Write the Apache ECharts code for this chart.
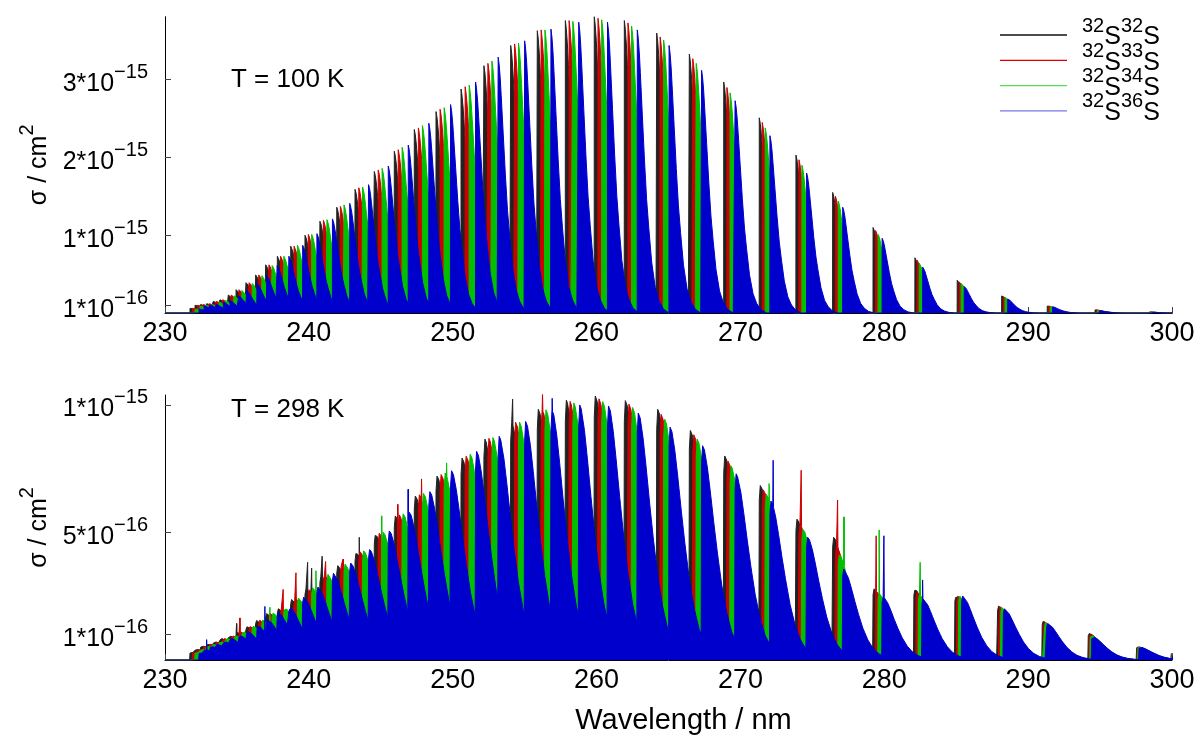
<!DOCTYPE html>
<html>
<head>
<meta charset="utf-8">
<title>S2 isotopologue absorption cross sections</title>
<script src="https://cdn.jsdelivr.net/npm/echarts@6/dist/echarts.min.js"></script>
<style>
  html, body { margin: 0; padding: 0; background: #fff; }
  #chart { width: 1200px; height: 736px; }
</style>
</head>
<body>
<div id="chart"></div>
<script>
var FONT = 'Liberation Sans';

// isotopologues, in drawing order (32S36S ends up on top)
var isoNames = ['32S32S', '32S33S', '32S34S', '32S36S'];
var isoMass = [['32', '32'], ['32', '33'], ['32', '34'], ['32', '36']];
var isoColors = ['#222222', '#cc0000', '#00c000', '#0000cc'];
var legendColors = ['#111111', '#dd0000', '#55dd55', '#7777ee'];
// head shift of each isotopologue as a fraction of the 32S36S shift
var isoShiftFrac = [0, 0.28, 0.56, 1];

// ---- T = 100 K (sigma in 1e-15 cm2) ----
var heads100 = [231.74, 232.09, 232.48, 232.90, 233.36, 233.82, 234.40, 234.94, 235.63, 236.30,
  237.00, 237.81, 238.74, 239.73, 240.77, 241.94, 243.21, 244.55, 245.94, 247.33,
  248.84, 250.58, 252.17, 254.03, 255.88, 257.83, 259.84, 261.93, 264.18, 266.45,
  268.84, 271.31, 273.86, 276.41, 279.22, 282.13, 285.07, 288.16, 291.33, 294.65, 298.33];
var shift100 = [0.63, 0.63, 0.66, 0.66, 0.70, 0.70, 0.73, 0.73, 0.77, 0.77,
  0.80, 0.80, 0.83, 0.83, 0.87, 0.90, 0.94, 0.97, 0.97, 1.01,
  1.01, 1.01, 0.99, 0.97, 0.95, 0.93, 0.92, 0.90, 0.86, 0.85,
  0.79, 0.74, 0.74, 0.70, 0.63, 0.54, 0.49, 0.42, 0.37, 0.31, 0.28];
var peak100_32 = [0.06, 0.10, 0.11, 0.12, 0.15, 0.17, 0.23, 0.30, 0.39, 0.49,
  0.62, 0.73, 0.86, 1.00, 1.18, 1.36, 1.59, 1.82, 2.08, 2.36,
  2.59, 2.88, 3.18, 3.44, 3.63, 3.76, 3.81, 3.76, 3.60, 3.33,
  2.97, 2.51, 2.03, 1.55, 1.10, 0.71, 0.42, 0.22, 0.09, 0.04, 0.015];
var peak100_33 = [0.06, 0.10, 0.11, 0.12, 0.15, 0.17, 0.23, 0.30, 0.39, 0.49,
  0.62, 0.73, 0.86, 1.01, 1.19, 1.37, 1.61, 1.84, 2.10, 2.38,
  2.62, 2.91, 3.21, 3.46, 3.64, 3.76, 3.79, 3.73, 3.55, 3.27,
  2.90, 2.45, 1.97, 1.50, 1.06, 0.68, 0.40, 0.21, 0.09, 0.04, 0.014];
var peak100_34 = [0.05, 0.09, 0.10, 0.11, 0.14, 0.16, 0.22, 0.29, 0.38, 0.48,
  0.61, 0.73, 0.87, 1.01, 1.20, 1.39, 1.62, 1.86, 2.13, 2.41,
  2.64, 2.93, 3.24, 3.47, 3.64, 3.75, 3.77, 3.69, 3.51, 3.21,
  2.83, 2.38, 1.90, 1.44, 1.01, 0.64, 0.38, 0.20, 0.08, 0.03, 0.012];
var peak100_36 = [0.05, 0.09, 0.10, 0.11, 0.14, 0.16, 0.22, 0.29, 0.38, 0.48,
  0.61, 0.73, 0.87, 1.02, 1.21, 1.41, 1.65, 1.89, 2.16, 2.44,
  2.68, 2.97, 3.29, 3.50, 3.65, 3.74, 3.74, 3.64, 3.44, 3.12,
  2.73, 2.28, 1.80, 1.36, 0.96, 0.59, 0.34, 0.18, 0.08, 0.03, 0.01];
// band contour: offset from head (nm), relative height
var prof100Off = [-0.005, 0, 0.07, 0.14, 0.21, 0.35, 0.5, 0.65, 0.8, 1.0, 1.25, 1.5, 1.8, 2.2];
var prof100Rel = [0, 1, 0.97, 0.92, 0.85, 0.70, 0.54, 0.40, 0.30, 0.18, 0.09, 0.045, 0.015, 0];

// ---- T = 298 K (sigma in 1e-16 cm2) ----
var heads298 = [231.74, 232.09, 232.48, 232.90, 233.36, 233.82, 234.40, 234.94, 235.63, 236.30,
  237.00, 237.81, 238.74, 239.73, 240.77, 241.94, 243.21, 244.55, 245.94, 247.33,
  248.84, 250.58, 252.17, 254.03, 255.88, 257.83, 259.84, 261.93, 264.18, 266.45,
  268.84, 271.31, 273.86, 276.41, 279.22, 282.06, 284.91, 287.88, 290.98, 294.18, 297.54, 299.95];
var shift298 = [0.63, 0.63, 0.66, 0.66, 0.70, 0.70, 0.73, 0.73, 0.77, 0.77,
  0.80, 0.80, 0.83, 0.83, 0.87, 0.90, 0.94, 0.97, 0.97, 1.01,
  1.01, 1.01, 0.99, 0.97, 0.95, 0.93, 0.92, 0.90, 0.86, 0.85,
  0.79, 0.74, 0.74, 0.70, 0.63, 0.56, 0.47, 0.40, 0.31, 0.24, 0.17, 0.14];
var peak298_32 = [0.30, 0.42, 0.55, 0.62, 0.72, 0.85, 0.95, 1.10, 1.30, 1.55,
  1.82, 2.01, 2.40, 2.79, 3.31, 3.70, 4.22, 4.94, 5.65, 6.43,
  7.21, 7.92, 8.66, 9.31, 9.83, 10.19, 10.35, 10.17, 9.83, 9.00,
  8.00, 6.84, 5.52, 4.81, 2.79, 2.77, 2.51, 2.12, 1.52, 1.04, 0.52, 0.26];
var peak298_33 = [0.29, 0.41, 0.54, 0.62, 0.72, 0.85, 0.95, 1.11, 1.31, 1.56,
  1.83, 2.02, 2.42, 2.81, 3.34, 3.73, 4.25, 4.97, 5.69, 6.48,
  7.27, 7.99, 8.69, 9.32, 9.82, 10.14, 10.24, 10.03, 9.63, 8.83,
  7.80, 6.67, 5.32, 4.46, 2.71, 2.67, 2.51, 2.09, 1.50, 1.00, 0.51, 0.25];
var peak298_34 = [0.29, 0.41, 0.54, 0.61, 0.72, 0.85, 0.96, 1.11, 1.32, 1.57,
  1.84, 2.04, 2.43, 2.83, 3.36, 3.76, 4.28, 5.01, 5.73, 6.53,
  7.33, 8.07, 8.72, 9.33, 9.81, 10.08, 10.13, 9.90, 9.44, 8.66,
  7.61, 6.50, 5.12, 4.12, 2.61, 2.56, 2.51, 2.06, 1.47, 0.97, 0.51, 0.25];
var peak298_36 = [0.28, 0.40, 0.53, 0.61, 0.72, 0.85, 0.96, 1.12, 1.33, 1.58,
  1.86, 2.06, 2.46, 2.86, 3.40, 3.80, 4.33, 5.06, 5.79, 6.60,
  7.42, 8.18, 8.77, 9.35, 9.80, 10.00, 9.96, 9.68, 9.13, 8.40,
  7.30, 6.23, 4.81, 3.57, 2.47, 2.40, 2.51, 2.01, 1.43, 0.91, 0.50, 0.24];
var prof298Off = [-0.03, 0, 0.07, 0.2, 0.4, 0.6, 0.85, 1.1, 1.4, 1.75, 2.1, 2.5, 2.9, 3.5];
var prof298Rel = [0, 0.92, 1, 0.98, 0.9, 0.79, 0.64, 0.5, 0.35, 0.22, 0.13, 0.07, 0.035, 0];
// single strong lines standing above the 298 K contours: [nm, sigma]
var spikes298_32 = [[234.98, 1.43], [239.92, 3.83], [240.20, 3.60], [240.93, 4.07], [243.51, 4.81], [254.17, 10.23]];
var spikes298_33 = [[235.21, 1.65], [238.22, 2.77], [239.11, 3.42], [241.17, 3.86], [242.39, 3.96], [246.18, 6.10],
  [247.84, 7.10], [256.25, 10.43], [274.23, 7.44], [276.76, 6.27], [279.44, 4.87]];
var spikes298_34 = [[237.30, 2.07], [240.50, 3.50], [245.06, 5.65], [249.58, 7.73], [272.00, 6.92], [277.20, 5.61],
  [279.65, 5.10], [282.50, 3.83]];
var spikes298_36 = [[232.90, 0.80], [236.95, 2.10], [246.91, 6.69], [256.92, 10.26], [272.28, 7.83], [279.98, 4.87],
  [282.67, 3.14]];

// y tick values and their labels
var yTicksTop = [0.1, 1, 2, 3];
var yLabelsTop = [['1*10', '\u221216'], ['1*10', '\u221215'], ['2*10', '\u221215'], ['3*10', '\u221215']];
var yTicksBottom = [1, 5, 10];
var yLabelsBottom = [['1*10', '\u221216'], ['5*10', '\u221216'], ['1*10', '\u221215']];

function profileAt(off, rel, d) {
  if (d <= off[0] || d >= off[off.length - 1]) return 0;
  for (var k = 1; k < off.length; k++) {
    if (d <= off[k]) {
      var t = (d - off[k - 1]) / (off[k] - off[k - 1]);
      return rel[k - 1] + t * (rel[k] - rel[k - 1]);
    }
  }
  return 0;
}

function buildSpectrum(heads, shifts, frac, peaks, off, rel, spikes) {
  var bands = heads.map(function (h, i) { return [h + shifts[i] * frac, peaks[i]]; });
  function env(x) {
    var v = 0;
    for (var i = 0; i < bands.length; i++) {
      var p = bands[i][1] * profileAt(off, rel, x - bands[i][0]);
      if (p > v) v = p;
    }
    return v;
  }
  var xs = [230, 300];
  bands.forEach(function (b) {
    off.forEach(function (o) { xs.push(b[0] + o); });
  });
  var pts = xs.map(function (x) { return [x, env(x)]; });
  (spikes || []).forEach(function (s) {
    var l = s[0] - 0.02, r = s[0] + 0.02;
    pts.push([l, env(l)], [s[0] - 0.006, Math.max(env(s[0]), s[1])],
      [s[0] + 0.006, Math.max(env(s[0]), s[1])], [r, env(r)]);
  });
  pts.sort(function (a, b) { return a[0] - b[0]; });
  return pts;
}

// base text sits at the bottom of a 34px line, superscript at the top
var rich = {
  b: { fontFamily: FONT, fontSize: 25, lineHeight: 34, color: '#000', verticalAlign: 'bottom' },
  sup: { fontFamily: FONT, fontSize: 20, lineHeight: 34, color: '#000', verticalAlign: 'top' },
  supf: { fontFamily: FONT, fontSize: 20, lineHeight: 34, color: '#000', verticalAlign: 'top', padding: [0, 0, 0, 10] }
};

function tickFormatter(ticks, labels) {
  return function (v) {
    for (var i = 0; i < ticks.length; i++) {
      if (Math.abs(ticks[i] - v) < 1e-9) return '{b|' + labels[i][0] + '}{sup|' + labels[i][1] + '}';
    }
    return '';
  };
}

function xAxisFor(idx) {
  var ax = {
    type: 'value', gridIndex: idx, min: 230, max: 300, interval: 10,
    axisLine: { show: true, onZero: false, lineStyle: { color: '#000', width: 1 } },
    axisTick: { show: true, inside: true, length: 6, lineStyle: { color: '#444' } },
    axisLabel: { margin: 7, fontFamily: FONT, fontSize: 27, color: '#000' },
    splitLine: { show: false }
  };
  if (idx === 1) {
    ax.name = 'Wavelength / nm';
    ax.nameLocation = 'middle';
    ax.nameGap = 46;
    ax.nameTextStyle = { fontFamily: FONT, fontSize: 29, color: '#000', padding: [0, 0, 0, 30] };
  }
  return ax;
}

function yAxisFor(idx, max, ticks, labels) {
  return {
    type: 'value', gridIndex: idx, min: 0, max: max,
    axisLine: { show: true, lineStyle: { color: '#000', width: 1 } },
    axisTick: { show: true, inside: true, length: 6, customValues: ticks, lineStyle: { color: '#444' } },
    axisLabel: { margin: 17, customValues: ticks, formatter: tickFormatter(ticks, labels), rich: rich },
    splitLine: { show: false },
    name: '{b|\u03c3 / cm}{sup|2}', nameLocation: 'middle', nameRotate: 90, nameGap: 112,
    nameTextStyle: { rich: rich }
  };
}

var panels = [
  { heads: heads100, shifts: shift100, peaks: [peak100_32, peak100_33, peak100_34, peak100_36],
    off: prof100Off, rel: prof100Rel, spikes: [[], [], [], []] },
  { heads: heads298, shifts: shift298, peaks: [peak298_32, peak298_33, peak298_34, peak298_36],
    off: prof298Off, rel: prof298Rel, spikes: [spikes298_32, spikes298_33, spikes298_34, spikes298_36] }
];

var series = [];
panels.forEach(function (p, pi) {
  isoNames.forEach(function (name, k) {
    series.push({
      name: name, type: 'line', xAxisIndex: pi, yAxisIndex: pi,
      z: 2 + k,
      data: buildSpectrum(p.heads, p.shifts, isoShiftFrac[k], p.peaks[k], p.off, p.rel, p.spikes[k]),
      showSymbol: false, symbol: 'none', silent: true, clip: true,
      lineStyle: { color: isoColors[k], width: 1 },
      itemStyle: { color: isoColors[k] },
      areaStyle: { color: isoColors[k], opacity: 1 }
    });
  });
});

var chart = echarts.init(document.getElementById('chart'));
chart.setOption({
  animation: false,
  backgroundColor: '#fff',
  textStyle: { fontFamily: FONT },
  title: [
    { text: 'T = 100 K', left: 226, top: 62, textStyle: { fontFamily: FONT, fontSize: 26, fontWeight: 'normal', color: '#000' } },
    { text: 'T = 298 K', left: 226, top: 392, textStyle: { fontFamily: FONT, fontSize: 26, fontWeight: 'normal', color: '#000' } }
  ],
  legend: {
    orient: 'vertical', left: 1000, top: 16, padding: 0, itemGap: -8.7,
    icon: 'rect', itemWidth: 67, itemHeight: 1.3,
    data: isoNames.map(function (n, k) { return { name: n, itemStyle: { color: legendColors[k] } }; }),
    formatter: function (name) {
      var m = isoMass[isoNames.indexOf(name)];
      return '{supf|' + m[0] + '}{b|S}{sup|' + m[1] + '}{b|S}';
    },
    textStyle: { rich: rich, padding: [0, 0, 4, 0] },
    selectedMode: false
  },
  grid: [
    { left: 165, width: 1007, top: 16.7, height: 296.3 },
    { left: 165, width: 1007, top: 395, height: 266.7 }
  ],
  xAxis: [xAxisFor(0), xAxisFor(1)],
  yAxis: [yAxisFor(0, 3.81, yTicksTop, yLabelsTop), yAxisFor(1, 10.39, yTicksBottom, yLabelsBottom)],
  series: series
});
</script>
</body>
</html>
